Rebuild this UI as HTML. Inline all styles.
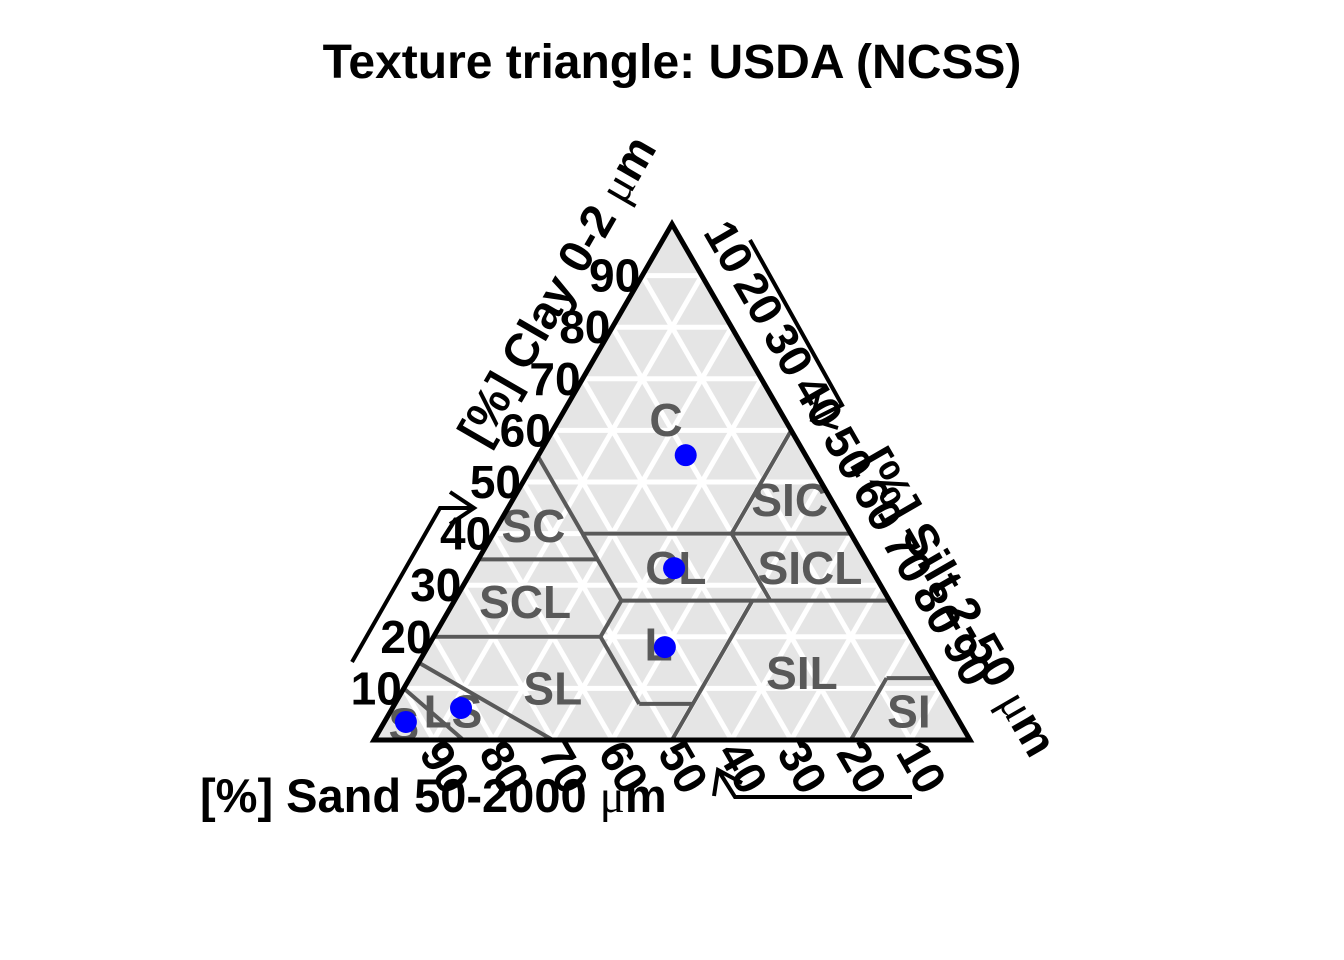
<!DOCTYPE html>
<html><head><meta charset="utf-8"><style>
body{margin:0;background:#fff;}
svg{display:block;font-family:"Liberation Sans",sans-serif;}
</style></head><body>
<svg id="chart" width="1344" height="960" viewBox="0 0 1344 960">
<text x="672" y="78" text-anchor="middle" font-size="48" font-weight="bold">Texture triangle: USDA (NCSS)</text>
<g id="plot"></g>
</svg>
<script>
const pointClay = [55.2, 33.3, 18, 6.2, 3.5];
const pointSilt = [24.7, 33.7, 39.8, 11.5, 3.6];
const ticks = [10,20,30,40,50,60,70,80,90];
const classNames = ["C","SC","SIC","CL","SICL","SCL","L","SIL","SL","LS","SI","S"];
const classClay = [62,41.5,46.5,33.3,33.3,26.7,18.5,13,10,5.5,5.5,3];
const classSilt = [18,6,46.5,34,56.5,12,38.5,65.3,25,10.5,87,3.5];
// boundary segments: [silt1, clay1, silt2, clay2]
const boundaries = [
 [15,40,60,40],[40,40,40,60],[0,55,20,35],[0,35,20,35],
 [28,27,73,27],[53,27,40,40],[20,35,15,40],[28,27,20,35],
 [0,20,28,20],[28,20,28,27],[41,7,28,20],[41,7,50,7],
 [50,0,50,27],[30,0,0,15],[15,0,0,10],[80,0,80,12],[80,12,88,12]
];
const X0=374, Y0=740, W=596, H=516;
function px(silt, clay){return X0+(silt+clay/2)/100*W;}
function py(clay){return Y0-clay/100*H;}
const NS="http://www.w3.org/2000/svg";
const g=document.getElementById('plot');
function mk(tag, attrs, parent){const e=document.createElementNS(NS,tag);for(const k in attrs)e.setAttribute(k,attrs[k]);(parent||g).appendChild(e);return e;}
const bg=mk('polygon',{points:`${px(0,0)},${py(0)} ${px(100,0)},${py(0)} ${px(0,100)},${py(100)}`,fill:'#e5e5e5'});


ticks.forEach(v=>{
  let l=mk('line',{x1:px(0,v),y1:py(v),x2:px(100-v,v),y2:py(v),stroke:'#fff','stroke-width':5});
  
  
  l=mk('line',{x1:px(v,0),y1:py(0),x2:px(v,100-v),y2:py(100-v),stroke:'#fff','stroke-width':5});
  
  
  l=mk('line',{x1:px(100-v,0),y1:py(0),x2:px(0,100-v),y2:py(100-v),stroke:'#fff','stroke-width':5});
  
  
});
boundaries.forEach(b=>{
  const l=mk('line',{x1:px(b[0],b[1]),y1:py(b[1]),x2:px(b[2],b[3]),y2:py(b[3]),stroke:'#595959','stroke-width':4});
  
  
});
classNames.forEach((n,i)=>{
  const t=mk('text',{x:px(classSilt[i],classClay[i]),y:py(classClay[i])+16,'text-anchor':'middle','font-size':46,'font-weight':'bold',fill:'#595959'});
  t.textContent=n;
  
  
});
const ol=mk('polygon',{points:`${px(0,0)},${py(0)} ${px(100,0)},${py(0)} ${px(0,100)},${py(100)}`,fill:'none',stroke:'#000','stroke-width':5,'stroke-linejoin':'miter'});


pointClay.forEach((c,i)=>{
  const p=mk('circle',{cx:px(pointSilt[i],c),cy:py(c),r:11,fill:'#0000ff'});
  
  
});
ticks.forEach(v=>{
  let t=mk('text',{x:px(0,v)-2,y:py(v)+16,'text-anchor':'end','font-size':46,'font-weight':'bold'});
  t.textContent=v;
  
  
  const sx=px(100-v,0)+8, sy=py(0)+29;
  t=mk('text',{x:sx,y:sy,'text-anchor':'middle','dominant-baseline':'middle','font-size':46,'font-weight':'bold',transform:`rotate(60 ${sx} ${sy})`});
  t.textContent=v;
  
  
  const tx=px(v,100-v)+24, ty=py(100-v)-27;
  t=mk('text',{x:tx,y:ty,'text-anchor':'middle','dominant-baseline':'middle','font-size':46,'font-weight':'bold',transform:`rotate(60 ${tx} ${ty})`});
  t.textContent=v;
  
  
});
</script>
<svg width="1344" height="960" style="position:absolute;left:0;top:0">
<g font-family="Liberation Sans, sans-serif" font-size="47" font-weight="bold">
<text x="200" y="812">[%] Sand 50-2000 <tspan font-family="Liberation Serif, serif" font-weight="normal">μ</tspan>m</text>
<text x="557" y="306" text-anchor="middle" transform="rotate(-60 557 290)">[%] Clay 0-2 <tspan font-family="Liberation Serif, serif" font-weight="normal">μ</tspan>m</text>
<text x="958" y="618" text-anchor="middle" transform="rotate(60 958 602)">[%] Silt 2-50 <tspan font-family="Liberation Serif, serif" font-weight="normal">μ</tspan>m</text>
</g>
<g fill="none" stroke="#000" stroke-width="4">
<polyline points="352,662 440,508 474,508"/>
<polyline points="450,492 474,508 450,524"/>
<polyline points="750,240 842,405 812,420"/>
<polyline points="818,395 812,420 838,428"/>
<polyline points="912,797 735,797 718,770"/>
<polyline points="714,796 718,770 742,783"/>
</g>
</svg>
</body></html>
